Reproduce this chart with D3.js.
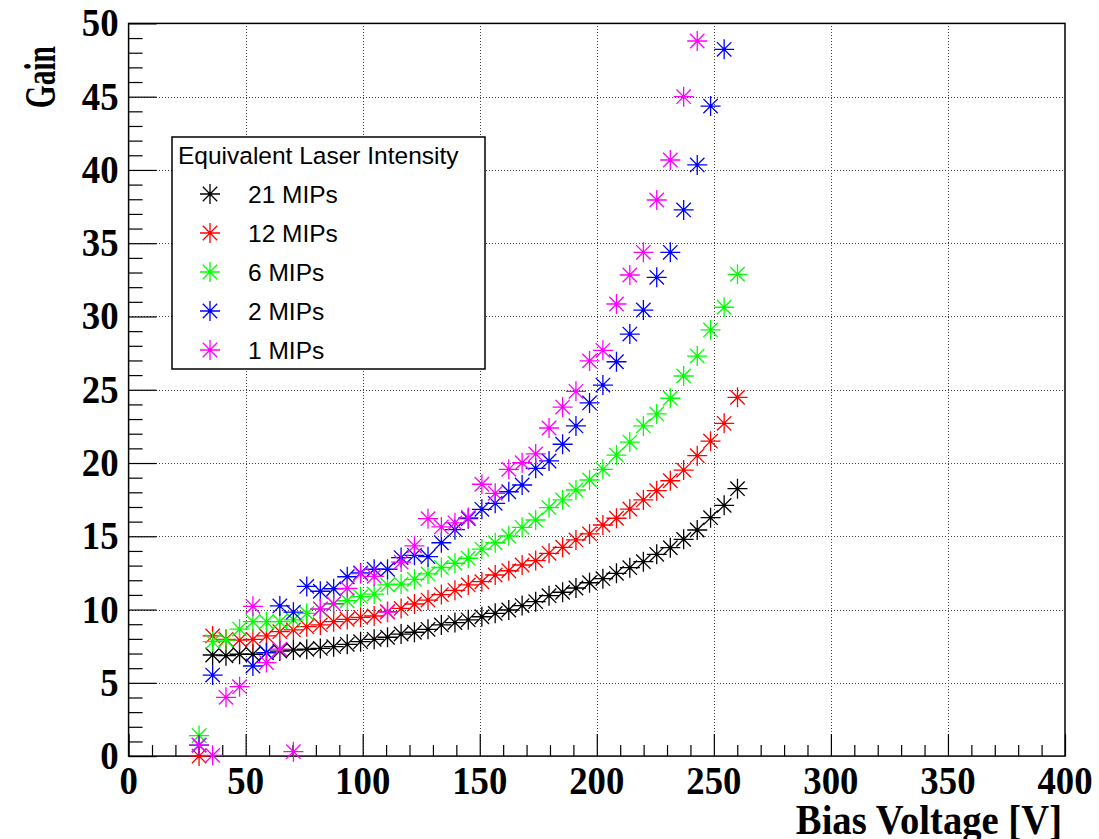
<!DOCTYPE html>
<html>
<head>
<meta charset="utf-8">
<script src="https://cdn.jsdelivr.net/npm/d3@7"></script>
<style>
  html, body { margin: 0; padding: 0; background: #fff; }
  svg { display: block; }
  .lbl { font-family: "Liberation Serif", "Times New Roman", serif; font-weight: bold; fill: #000; }
  .leg { font-family: "Liberation Sans", Arial, Helvetica, sans-serif; fill: #000; }
</style>
</head>
<body>
<script>
// Bias voltage settings (V), shared by all series
const voltages = [30.1, 35.9, 41.6, 47.4, 53.1, 58.9, 64.6, 70.4, 76.1, 81.9,
  87.6, 93.4, 99.1, 104.9, 110.6, 116.4, 122.1, 127.9, 133.6, 139.4,
  145.1, 150.9, 156.6, 162.4, 168.1, 173.9, 179.6, 185.4, 191.1, 196.9,
  202.6, 208.4, 214.1, 219.9, 225.6, 231.4, 237.1, 242.9, 248.6, 254.4, 260.1];

// Gain per voltage step (null = no measurement)
const gain21 = [null, 6.90, 6.85, 6.95, 6.95, 7.06, 7.17, 7.24, 7.29, 7.35,
  7.47, 7.63, 7.81, 7.97, 8.11, 8.33, 8.45, 8.65, 8.95, 9.11,
  9.30, 9.51, 9.74, 9.97, 10.27, 10.54, 10.95, 11.18, 11.47, 11.83,
  12.11, 12.47, 12.86, 13.27, 13.77, 14.22, 14.79, 15.43, 16.27, 17.11, 18.25];
const gain12 = [0.0, 8.20, 7.97, 7.92, 7.97, 8.20, 8.49, 8.61, 8.83, 8.95,
  9.17, 9.33, 9.47, 9.56, 9.86, 10.08, 10.38, 10.65, 11.02, 11.31,
  11.68, 11.90, 12.36, 12.65, 13.04, 13.34, 13.84, 14.25, 14.75, 15.16,
  15.77, 16.23, 16.86, 17.48, 18.11, 18.79, 19.52, 20.50, 21.49, 22.71, 24.48];
const gain6 = [1.4, 7.81, 7.92, 8.67, 9.17, 9.17, 9.17, 9.29, 9.74, 10.02,
  10.38, 10.60, 10.88, 11.06, 11.68, 11.74, 12.06, 12.43, 12.87, 13.16,
  13.50, 14.13, 14.56, 15.02, 15.61, 16.11, 16.95, 17.48, 18.16, 18.84,
  19.57, 20.54, 21.43, 22.53, 23.35, 24.42, 25.94, 27.30, 29.08, 30.63, 32.88];
const gain2 = [0.75, 5.53, null, null, 6.15, 7.06, 10.25, 9.82, 11.58, 11.25,
  11.42, 12.24, 12.50, 12.75, 12.75, 13.55, 13.70, 13.61, 14.56, 15.45,
  16.20, 16.84, 17.25, 18.04, 18.50, 19.64, 20.14, 21.28, 22.53, 24.10,
  25.32, 26.91, 28.80, 30.44, 32.67, 34.38, 37.27, 40.34, 44.36, 48.23, null];
const gain1 = [0.75, 0.05, 4.01, 4.74, 10.22, 6.38, 7.30, 0.30, null, 10.05,
  10.40, 11.45, 12.45, 12.27, 9.82, 13.24, 14.35, 16.20, 15.64, 15.92,
  16.28, 18.55, 17.93, 19.57, 20.02, 20.62, 22.39, 23.82, 24.89, 26.97,
  27.69, 30.85, 32.83, 34.38, 37.95, 40.68, 45.00, 48.80, null, null, null];

const seriesNames = ["21 MIPs", "12 MIPs", "6 MIPs", "2 MIPs", "1 MIPs"];
const seriesGains = [gain21, gain12, gain6, gain2, gain1];
const seriesColors = ["#000000", "#ff0000", "#00ff00", "#0000ff", "#ff00ff"];

const xTickLabels = [0, 50, 100, 150, 200, 250, 300, 350, 400];
const yTickLabels = [0, 5, 10, 15, 20, 25, 30, 35, 40, 45, 50];
const legendTitle = "Equivalent Laser Intensity";
const xTitle = "Bias Voltage [V]";
const yTitle = "Gain";

const W = 1099, H = 839;
const frame = { left: 128.6, right: 1065, top: 23.4, bottom: 756.1 };

const svg = d3.select("body").append("svg").attr("width", W).attr("height", H);
svg.append("rect").attr("width", W).attr("height", H).attr("fill", "#fff");

const x = d3.scaleLinear().domain([0, 400]).range([frame.left, frame.right]);
const y = d3.scaleLinear().domain([0, 50]).range([frame.bottom, frame.top]);

// dotted grid at major ticks
const grid = svg.append("g").attr("stroke", "#000").attr("stroke-width", 1)
  .attr("stroke-dasharray", "1,2").attr("shape-rendering", "crispEdges").attr("opacity", 0.75);
xTickLabels.slice(1, -1).forEach(v => {
  grid.append("line").attr("x1", Math.round(x(v)) + 0.5).attr("x2", Math.round(x(v)) + 0.5)
    .attr("y1", frame.top).attr("y2", frame.bottom);
});
yTickLabels.slice(1, -1).forEach(v => {
  grid.append("line").attr("y1", Math.round(y(v)) + 0.5).attr("y2", Math.round(y(v)) + 0.5)
    .attr("x1", frame.left).attr("x2", frame.right);
});

// axes: major and minor ticks pointing into the frame
const xMinor = d3.range(0, 401, 10).filter(v => v % 50 !== 0);
const yMinor = d3.range(0, 51, 1).filter(v => v % 5 !== 0);
function styleAxis(g) {
  g.select(".domain").remove();
  g.selectAll("text").remove();
  g.selectAll("line").attr("stroke", "#000").attr("stroke-width", 1.2);
}
svg.append("g").attr("transform", `translate(0,${frame.bottom})`)
  .call(d3.axisBottom(x).tickValues(xTickLabels).tickSize(-22)).call(styleAxis);
svg.append("g").attr("transform", `translate(0,${frame.bottom})`)
  .call(d3.axisBottom(x).tickValues(xMinor).tickSize(-11)).call(styleAxis);
svg.append("g").attr("transform", `translate(${frame.left},0)`)
  .call(d3.axisLeft(y).tickValues(yTickLabels).tickSize(-28)).call(styleAxis);
svg.append("g").attr("transform", `translate(${frame.left},0)`)
  .call(d3.axisLeft(y).tickValues(yMinor).tickSize(-14)).call(styleAxis);

// frame
svg.append("rect").attr("x", frame.left).attr("y", frame.top)
  .attr("width", frame.right - frame.left).attr("height", frame.bottom - frame.top)
  .attr("fill", "none").attr("stroke", "#000").attr("stroke-width", 1.5);

// tick labels and titles (condensed bold serif)
const sx = 0.92;
xTickLabels.forEach(v => {
  svg.append("text").attr("class", "lbl").attr("font-size", 40)
    .attr("text-anchor", "middle")
    .attr("transform", `translate(${x(v)},${frame.bottom + 38}) scale(${sx},1)`)
    .text(v);
});
yTickLabels.forEach(v => {
  svg.append("text").attr("class", "lbl").attr("font-size", 40)
    .attr("text-anchor", "end")
    .attr("transform", `translate(${frame.left - 10},${y(v) + 13}) scale(${sx},1)`)
    .text(v);
});
svg.append("text").attr("class", "lbl").attr("font-size", 42).attr("text-anchor", "end")
  .attr("transform", `translate(${frame.right - 3},${H - 5}) scale(0.92,1)`).text(xTitle);
svg.append("text").attr("class", "lbl").attr("font-size", 44).attr("text-anchor", "end")
  .attr("transform", `translate(55,46) rotate(-90) scale(0.67,1)`).text(yTitle);

// asterisk marker
function starPath(r) {
  const d = r * 0.72;
  return `M${-r},0H${r}M0,${-r}V${r}M${-d},${-d}L${d},${d}M${-d},${d}L${d},${-d}`;
}
function drawStar(g, cx, cy, color) {
  const s = g.append("g").attr("transform", `translate(${cx},${cy})`);
  s.append("path").attr("d", starPath(10)).attr("stroke", color)
    .attr("stroke-width", 1.3).attr("fill", "none");
  s.append("circle").attr("r", 1.6).attr("fill", color);
}

const plot = svg.append("g");
seriesGains.forEach((gains, si) => {
  const pts = voltages.map((v, i) => ({ v, g: gains[i] })).filter(d => d.g !== null);
  pts.forEach(d => drawStar(plot, x(d.v), y(d.g), seriesColors[si]));
});

// legend
const leg = svg.append("g");
leg.append("rect").attr("x", 172).attr("y", 137).attr("width", 313).attr("height", 232)
  .attr("fill", "#fff").attr("stroke", "#000").attr("stroke-width", 1.5);
leg.append("text").attr("class", "leg").attr("font-size", 24.5).attr("x", 178).attr("y", 164)
  .text(legendTitle);
seriesNames.forEach((name, i) => {
  const cy = 194 + i * 39;
  drawStar(leg, 210, cy, seriesColors[i]);
  leg.append("text").attr("class", "leg").attr("font-size", 24.5)
    .attr("x", 248).attr("y", cy + 8.5).text(name);
});
</script>
</body>
</html>
